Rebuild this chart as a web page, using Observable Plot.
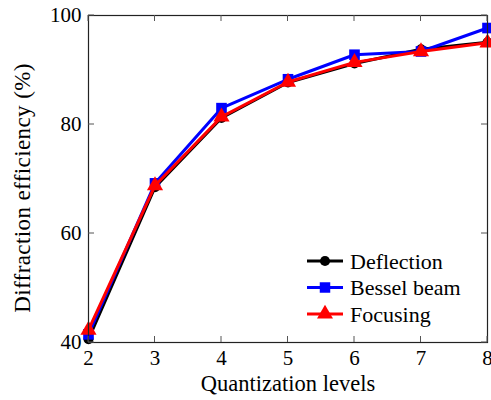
<!DOCTYPE html>
<html><head><meta charset="utf-8">
<script src="https://cdn.jsdelivr.net/npm/d3@7"></script>
<script src="https://cdn.jsdelivr.net/npm/@observablehq/plot@0.6"></script>
<style>
body{margin:0;background:#fff;}
#c{position:relative;width:491px;height:400px;}
</style></head><body><div id="c"></div>
<script>
const levels = [2, 3, 4, 5, 6, 7, 8];
const deflection = [40.6, 68.5, 81.2, 87.7, 91.2, 93.8, 95.1];
const bessel     = [41.5, 69.2, 83.0, 88.3, 92.8, 93.4, 97.7];
const focusing   = [42.3, 68.8, 81.4, 87.8, 91.4, 93.4, 95.0];
const seriesNames = ["Deflection", "Bessel beam", "Focusing"];
const seriesColors = ["black", "blue", "red"];
const seriesSymbols = ["circle", "square", "triangle"];
const xTicks = [2, 3, 4, 5, 6, 7, 8];
const yTicks = [40, 60, 80, 100];

const allValues = [deflection, bessel, focusing];
const rows = [];
allValues.forEach((vals, s) => vals.forEach((v, i) => rows.push({series: seriesNames[s], x: levels[i], y: v})));

const font = "'Liberation Serif', 'DejaVu Serif', serif";
const W = 491, H = 400;
const marks = [
  Plot.axisX(xTicks, {fontSize: 21, tickSize: 0, tickPadding: 8, tickFormat: d => d, label: null, fill: "black"}),
  Plot.axisY(yTicks, {fontSize: 21, tickSize: 0, tickPadding: 7, label: null, fill: "black"})
];
seriesNames.forEach((name, s) => {
  const d = rows.filter(r => r.series === name);
  marks.push(Plot.line(d, {x: "x", y: "y", stroke: seriesColors[s], strokeWidth: 3}));
  marks.push(Plot.dot(d, {x: "x", y: "y", fill: seriesColors[s], stroke: "none", symbol: seriesSymbols[s], r: s === 0 ? 5 : 6}));
});
marks.push(Plot.frame({stroke: "#222", strokeWidth: 1.2}));

const plot = Plot.plot({
  width: W, height: H,
  marginLeft: 88, marginRight: 4, marginTop: 15, marginBottom: 58,
  style: {fontFamily: font, background: "white", color: "black"},
  x: {domain: [2, 8]},
  y: {domain: [40, 100]},
  marks
});

const svg = d3.select(plot);
const xs = plot.scale("x"), ys = plot.scale("y");
const x0 = xs.apply(2), x1 = xs.apply(8), y0 = ys.apply(40), y1 = ys.apply(100);
const tg = svg.append("g").attr("stroke", "#555").attr("stroke-width", 1);
xTicks.forEach(t => {
  const px = xs.apply(t);
  tg.append("line").attr("x1", px).attr("x2", px).attr("y1", y0).attr("y2", y0 - 6);
  tg.append("line").attr("x1", px).attr("x2", px).attr("y1", y1).attr("y2", y1 + 6);
});
yTicks.forEach(t => {
  const py = ys.apply(t);
  tg.append("line").attr("x1", x0).attr("x2", x0 + 6).attr("y1", py).attr("y2", py);
  tg.append("line").attr("x1", x1).attr("x2", x1 - 6).attr("y1", py).attr("y2", py);
});
// axis titles
svg.append("text").attr("x", 288).attr("y", 391).attr("text-anchor", "middle")
  .attr("font-family", font).attr("font-size", 22.5).attr("fill", "black").text("Quantization levels");
svg.append("text").attr("transform", `translate(30,188) rotate(-90)`).attr("text-anchor", "middle")
  .attr("font-family", font).attr("font-size", 23).attr("letter-spacing", 0.4).attr("fill", "black").text("Diffraction efficiency (%)");
// legend
const lg = svg.append("g");
seriesNames.forEach((name, s) => {
  const ly = 261 + s * 26.5;
  lg.append("line").attr("x1", 307).attr("x2", 343).attr("y1", ly).attr("y2", ly)
    .attr("stroke", seriesColors[s]).attr("stroke-width", 3);
  const sym = d3.symbol(s === 0 ? d3.symbolCircle : s === 1 ? d3.symbolSquare : d3.symbolTriangle, s === 0 ? 80 : 110);
  lg.append("path").attr("d", sym()).attr("transform", `translate(325,${ly})`).attr("fill", seriesColors[s]);
  lg.append("text").attr("x", 350).attr("y", ly).attr("dy", "0.35em").attr("text-anchor", "start")
    .attr("font-family", font).attr("font-size", 22).attr("fill", "black").text(name);
});
document.getElementById("c").appendChild(plot);
</script></body></html>
